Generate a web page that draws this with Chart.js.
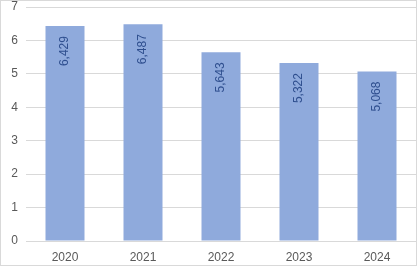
<!DOCTYPE html>
<html>
<head>
<meta charset="utf-8">
<script src="https://cdn.jsdelivr.net/npm/chart.js@4"></script>
<style>
  html, body { margin: 0; padding: 0; background: #fff; }
  #wrap { width: 417px; height: 266px; box-sizing: border-box; border: 1px solid #d9d9d9; background: #fff; }
  canvas { display: block; }
</style>
</head>
<body>
<div id="wrap"><canvas id="chart" width="415" height="264"></canvas></div>
<script>
// chart data
const years = ['2020', '2021', '2022', '2023', '2024'];
const values = [6.429, 6.487, 5.643, 5.322, 5.068];
const yTicks = [0, 1, 2, 3, 4, 5, 6, 7];

// draws the value inside each bar, rotated, near its top
const barLabels = {
    id: 'barLabels',
    afterDatasetsDraw(chart) {
        const ctx = chart.ctx;
        const meta = chart.getDatasetMeta(0);
        ctx.save();
        ctx.fillStyle = '#2f4f8f';
        ctx.font = '12px "Liberation Sans", Arial, sans-serif';
        ctx.textAlign = 'right';
        ctx.textBaseline = 'middle';
        meta.data.forEach((bar, i) => {
            const txt = values[i].toFixed(3).replace('.', ',');
            ctx.save();
            ctx.translate(bar.x, bar.y + 10);
            ctx.rotate(-Math.PI / 2);
            ctx.fillText(txt, 0, 0);
            ctx.restore();
        });
        ctx.restore();
    }
};

const ctx = document.getElementById('chart').getContext('2d');
new Chart(ctx, {
    type: 'bar',
    data: {
        labels: years,
        datasets: [{
            data: values,
            backgroundColor: '#8faadc',
            borderWidth: 0,
            categoryPercentage: 1,
            barPercentage: 0.5
        }]
    },
    options: {
        responsive: false,
        animation: false,
        layout: { padding: 0 },
        plugins: {
            legend: { display: false },
            tooltip: { enabled: false }
        },
        scales: {
            x: {
                grid: { display: false },
                border: { display: false },
                ticks: {
                    color: '#595959',
                    font: { family: '"Liberation Sans", Arial, sans-serif', size: 12 },
                    padding: 1
                },
                afterFit(scale) {
                    scale.height = 24;
                    scale.paddingLeft = 0;
                    scale.paddingRight = 0;
                }
            },
            y: {
                min: yTicks[0],
                max: yTicks[yTicks.length - 1],
                afterBuildTicks(scale) { scale.ticks = yTicks.map(v => ({ value: v })); },
                grid: { color: '#d9d9d9', drawTicks: false },
                border: { display: false },
                ticks: {
                    color: '#595959',
                    font: { family: '"Liberation Sans", Arial, sans-serif', size: 12 },
                    padding: 8
                },
                afterFit(scale) {
                    scale.width = 25;
                    scale.paddingTop = 6;
                    scale.paddingBottom = 0;
                }
            }
        }
    },
    plugins: [barLabels]
});
</script>
</body>
</html>
